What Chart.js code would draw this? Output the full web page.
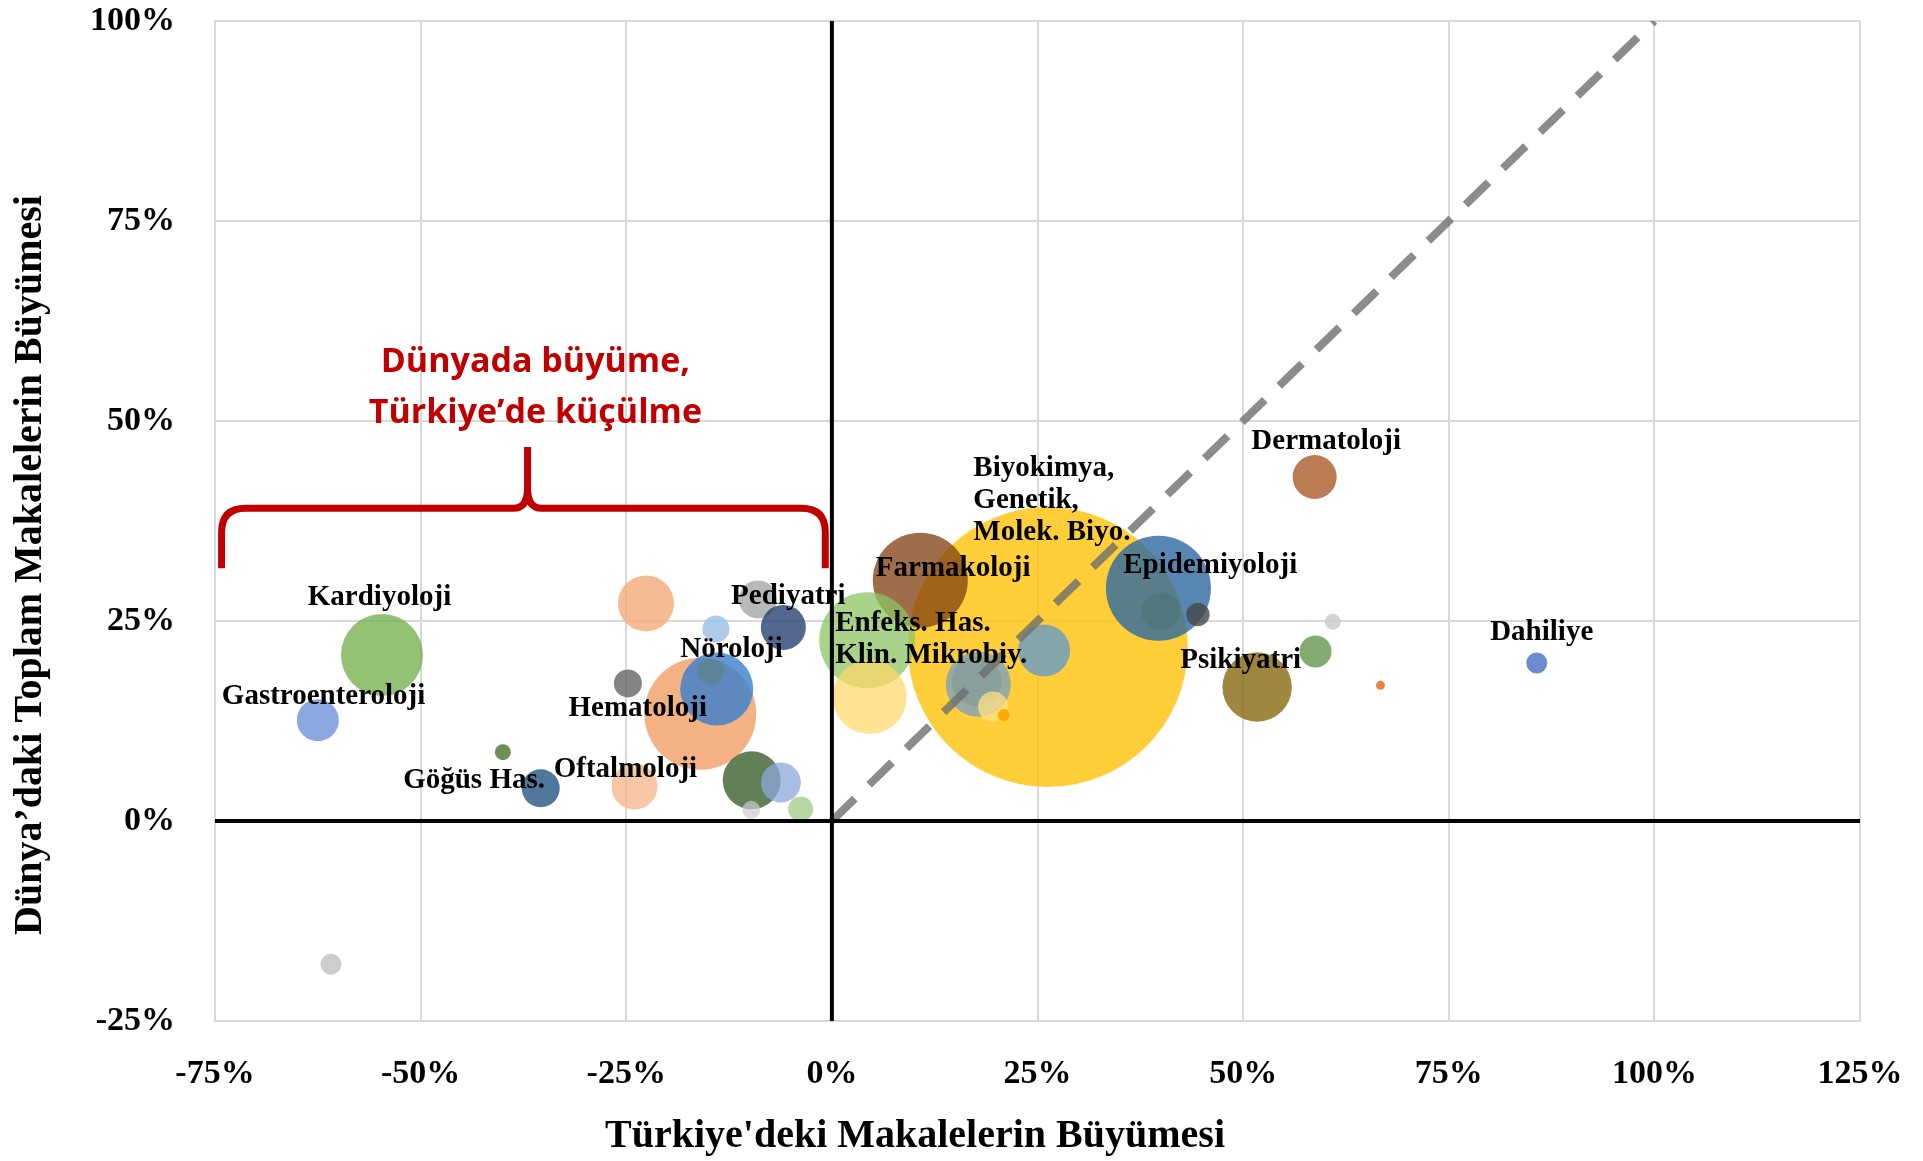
<!DOCTYPE html>
<html>
<head>
<meta charset="utf-8">
<script src="https://cdn.jsdelivr.net/npm/chart.js@4.4.1/dist/chart.umd.min.js"></script>
<style>
  html, body { margin: 0; padding: 0; background: #fff; }
  canvas { display: block; }
</style>
</head>
<body>
<canvas id="bubbleChart" width="1923" height="1161"></canvas>
<script>
// bubble values (growth in %), radius in px
const bubbleX = [26.25, -16.0, -54.7, 10.75, 39.7, 4.3, 4.6, -14.0, 51.7, 17.8, 17.6, 25.8, -9.75, -22.6, -24.0, -62.5, -9.0, -5.9, -35.4, -6.2, 58.7, 40.0, 58.8, 19.6, -24.8, -14.1, -14.7, -3.8, 44.5, 85.7, -60.9, -9.8, -40.0, 60.9, 20.9, 66.7];
const bubbleY = [21.75, 13.4, 20.75, 30.1, 29.1, 22.6, 15.5, 16.5, 16.75, 17.1, 17.5, 21.3, 5.1, 27.2, 4.3, 12.6, 27.7, 24.2, 4.1, 4.8, 43.0, 26.2, 21.2, 14.3, 17.2, 24.0, 18.7, 1.5, 25.8, 19.75, -17.9, 1.4, 8.6, 24.9, 13.25, 16.96];
const bubbleR = [140, 56, 41, 47.5, 52.5, 48, 37, 36.5, 34.7, 32.5, 25, 26, 29, 28, 23, 21, 19, 22.5, 19, 20, 22, 19, 16, 15, 14, 13.5, 13, 12.5, 11.7, 10.5, 10.5, 9, 8, 8, 6, 4.5];
const bubbleColors = [
  'rgba(255,192,0,0.78)', 'rgba(241,158,100,0.8)', 'rgba(112,173,71,0.75)', 'rgba(128,60,15,0.75)',
  'rgba(46,105,160,0.8)', 'rgba(140,196,100,0.75)', 'rgba(255,215,100,0.7)', 'rgba(55,128,205,0.8)',
  'rgba(135,105,15,0.8)', 'rgba(135,165,180,0.85)', 'rgba(110,140,150,0.35)', 'rgba(110,160,190,0.85)',
  'rgba(60,95,45,0.8)', 'rgba(243,170,120,0.8)', 'rgba(244,180,135,0.75)', 'rgba(110,145,215,0.8)',
  'rgba(160,160,160,0.75)', 'rgba(40,65,115,0.8)', 'rgba(38,85,130,0.8)', 'rgba(140,168,220,0.75)',
  'rgba(170,90,40,0.8)', 'rgba(70,110,110,0.45)', 'rgba(100,150,75,0.8)', 'rgba(255,225,130,0.75)',
  'rgba(100,100,100,0.8)', 'rgba(157,195,230,0.85)', 'rgba(90,130,110,0.5)', 'rgba(165,207,138,0.8)',
  'rgba(70,70,70,0.8)', 'rgba(68,114,196,0.8)', 'rgba(200,200,200,0.9)', 'rgba(205,205,205,0.7)',
  'rgba(84,125,60,0.85)', 'rgba(205,205,205,0.85)', 'rgba(255,165,0,0.9)', 'rgba(237,125,49,0.95)'
];

// data labels (text lines, anchor in data units, alignment)
const labelText = ['Kardiyoloji', 'Gastroenteroloji', 'Göğüs Has.', 'Oftalmoloji', 'Hematoloji', 'Nöroloji', 'Pediyatri',
  'Enfeks. Has.\nKlin. Mikrobiy.', 'Biyokimya,\nGenetik,\nMolek. Biyo.', 'Farmakoloji', 'Epidemiyoloji', 'Dermatoloji', 'Psikiyatri', 'Dahiliye'];
const labelX = [-55.0, -61.8, -43.5, -25.1, -23.6, -12.2, -5.3, 0.4, 17.2, 14.75, 46.0, 60.1, 49.7, 86.3];
const labelY = [27.9, 15.5, 5.0, 6.4, 14.0, 21.4, 28.0, 22.7, 40.1, 31.5, 31.9, 47.4, 20.0, 23.6];
const labelAlign = ['center', 'center', 'center', 'center', 'center', 'center', 'center', 'left', 'left', 'center', 'center', 'center', 'center', 'center'];

const diagonal = [{ x: 0, y: 0 }, { x: 100, y: 100 }];

const xTicks = [-75, -50, -25, 0, 25, 50, 75, 100, 125];
const yTicks = [-25, 0, 25, 50, 75, 100];

const xTitle = "Türkiye'deki Makalelerin Büyümesi";
const yTitle = 'Dünya’daki Toplam Makalelerin Büyümesi';
const noteLines = ['Dünyada büyüme,', 'Türkiye’de küçülme'];
// bracket over the negative-x region, in data units
const bracketFrom = -74.2, bracketTo = -0.8, bracketMid = -37.0;
const bracketBottom = 31.6, bracketBar = 39.1, bracketPeak = 46.75;
const noteX = -36.05, noteY = [57.3, 51.0];

const SERIF = "'Liberation Serif', 'Times New Roman', serif";
Chart.defaults.font.family = SERIF;
Chart.defaults.font.weight = 'bold';
Chart.defaults.font.size = 34;
Chart.defaults.color = '#000';

const overlay = {
  id: 'overlay',
  afterDatasetsDraw(chart) {
    const { ctx, chartArea: a, scales: { x, y } } = chart;
    ctx.save();
    // zero axes
    ctx.strokeStyle = '#000';
    ctx.lineWidth = 4;
    ctx.beginPath();
    const x0 = x.getPixelForValue(0), y0 = y.getPixelForValue(0);
    ctx.moveTo(x0, a.top); ctx.lineTo(x0, a.bottom);
    ctx.moveTo(a.left, y0); ctx.lineTo(a.right, y0);
    ctx.stroke();

    // data labels
    ctx.fillStyle = '#000';
    ctx.font = 'bold 29px ' + SERIF;
    ctx.textBaseline = 'middle';
    labelText.forEach((t, i) => {
      const lines = t.split('\n');
      const px = x.getPixelForValue(labelX[i]);
      const py = y.getPixelForValue(labelY[i]);
      const lh = 32;
      ctx.textAlign = labelAlign[i];
      lines.forEach((ln, j) => {
        ctx.fillText(ln, px, py + (j - (lines.length - 1) / 2) * lh);
      });
    });

    // red bracket + note
    const L = x.getPixelForValue(bracketFrom), R = x.getPixelForValue(bracketTo);
    const M = x.getPixelForValue(bracketMid);
    const B = y.getPixelForValue(bracketBottom), H = y.getPixelForValue(bracketBar);
    const P = y.getPixelForValue(bracketPeak);
    const c = 24;
    ctx.strokeStyle = '#c00000';
    ctx.lineWidth = 7;
    ctx.lineJoin = 'round';
    ctx.beginPath();
    ctx.moveTo(L, B);
    ctx.lineTo(L, H + c);
    ctx.quadraticCurveTo(L, H, L + c, H);
    ctx.lineTo(M - 14, H);
    ctx.quadraticCurveTo(M, H, M, H - 20);
    ctx.lineTo(M, P);
    ctx.moveTo(M, H - 20);
    ctx.quadraticCurveTo(M, H, M + 14, H);
    ctx.lineTo(R - c, H);
    ctx.quadraticCurveTo(R, H, R, H + c);
    ctx.lineTo(R, B);
    ctx.stroke();

    ctx.fillStyle = '#c00000';
    ctx.textAlign = 'center';
    ctx.font = 'bold 34px "Open Sans", Lato, sans-serif';
    noteLines.forEach((t, j) => {
      ctx.fillText(t, x.getPixelForValue(noteX), y.getPixelForValue(noteY[j]));
    });
    ctx.restore();
  },
  afterDraw(chart) {
    const { ctx } = chart;
    ctx.save();
    ctx.fillStyle = '#000';
    ctx.font = 'bold 40px ' + SERIF;
    ctx.textAlign = 'center';
    ctx.textBaseline = 'middle';
    ctx.fillText(xTitle, 915, 1137);
    ctx.translate(31, 565);
    ctx.rotate(-Math.PI / 2);
    ctx.fillText(yTitle, 0, 0);
    ctx.restore();
  }
};

new Chart(document.getElementById('bubbleChart'), {
  type: 'bubble',
  data: {
    datasets: [
      {
        type: 'line',
        data: diagonal,
        borderColor: 'rgba(110,110,110,0.8)',
        borderWidth: 8,
        borderDash: [32, 20],
        pointRadius: 0,
        fill: false,
        order: 0
      },
      {
        data: bubbleX.map((v, i) => ({ x: v, y: bubbleY[i], r: bubbleR[i] })),
        backgroundColor: bubbleColors,
        borderWidth: 0,
        hoverRadius: 0,
        order: 1
      }
    ]
  },
  options: {
    responsive: false,
    animation: false,
    layout: { autoPadding: false, padding: { top: 21, right: 63, left: 0, bottom: 0 } },
    plugins: { legend: { display: false }, tooltip: { enabled: false } },
    scales: {
      x: {
        type: 'linear',
        min: -75,
        max: 125,
        afterBuildTicks: s => { s.ticks = xTicks.map(v => ({ value: v })); },
        afterFit: s => { s.height = 140; s.paddingLeft = 0; s.paddingRight = 0; },
        ticks: { padding: 33, callback: v => v + '%', maxRotation: 0 },
        grid: { color: '#d9d9d9', lineWidth: 2, drawTicks: false },
        border: { color: '#d9d9d9', width: 2 }
      },
      y: {
        type: 'linear',
        min: -25,
        max: 100,
        afterBuildTicks: s => { s.ticks = yTicks.map(v => ({ value: v })); },
        afterFit: s => { s.width = 215; s.paddingTop = 0; s.paddingBottom = 0; },
        ticks: { padding: 40, callback: v => v + '%' },
        grid: { color: '#d9d9d9', lineWidth: 2, drawTicks: false },
        border: { color: '#d9d9d9', width: 2 }
      }
    }
  },
  plugins: [overlay]
});
</script>
</body>
</html>
